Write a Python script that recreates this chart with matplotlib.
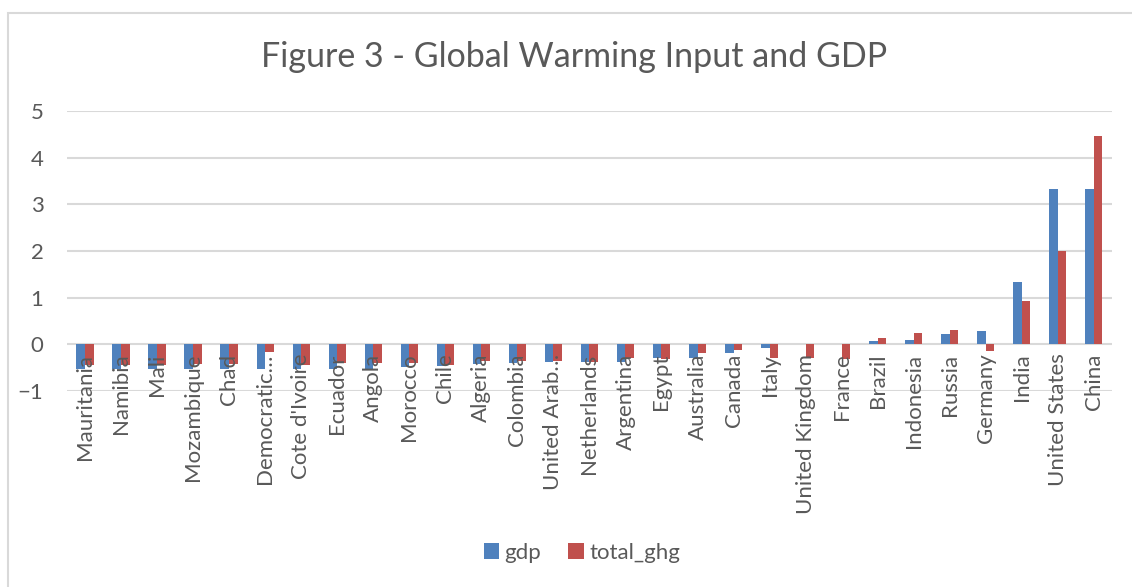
import matplotlib.pyplot as plt
import numpy as np
from matplotlib.patches import Rectangle

plt.rcParams['font.family'] = ['Lato', 'DejaVu Sans']

# country-level values (standardised)
countries = ["Mauritania", "Namibia", "Mali", "Mozambique", "Chad", "Democratic…",
             "Cote d'Ivoire", "Ecuador", "Angola", "Morocco", "Chile", "Algeria",
             "Colombia", "United Arab…", "Netherlands", "Argentina", "Egypt",
             "Australia", "Canada", "Italy", "United Kingdom", "France", "Brazil",
             "Indonesia", "Russia", "Germany", "India", "United States", "China"]
gdp = [-0.54, -0.54, -0.54, -0.54, -0.54, -0.54, -0.52, -0.52, -0.52, -0.48,
       -0.46, -0.42, -0.40, -0.39, -0.37, -0.37, -0.29, -0.29, -0.19, -0.09,
       0.0, 0.0, 0.08, 0.10, 0.22, 0.28, 1.33, 3.32, 3.32]
total_ghg = [-0.45, -0.45, -0.45, -0.42, -0.42, -0.17, -0.44, -0.41, -0.40, -0.41,
             -0.45, -0.35, -0.35, -0.36, -0.38, -0.30, -0.31, -0.18, -0.13, -0.30,
             -0.29, -0.31, 0.13, 0.24, 0.31, -0.15, 0.93, 1.99, 4.47]

blue = '#4F81BD'
red = '#C0504D'
grid = '#D9D9D9'
text_col = '#595959'

fig = plt.figure(figsize=(11.32, 5.87), dpi=100)
ax = fig.add_axes([0.0592, 0.334, 0.923, 0.477])

x = np.arange(len(countries))
w = 0.24
ax.bar(x - w / 2, gdp, w, color=blue, label='gdp', zorder=3)
ax.bar(x + w / 2, total_ghg, w, color=red, label='total_ghg', zorder=3)

ax.set_xlim(-0.5, len(countries) - 0.5)
ax.set_ylim(-1, 5)
ax.set_yticks(range(-1, 6))
ax.yaxis.grid(True, color=grid, linewidth=1.5, zorder=0)
ax.tick_params(axis='y', length=0, labelsize=16, labelcolor=text_col, pad=17)
ax.set_xticks([])
for s in ax.spines.values():
    s.set_visible(False)

# category labels sit just under the zero line
for xi, name in zip(x, countries):
    ax.text(xi, -0.2, name, rotation=90, ha='center', va='top',
            fontsize=16, color=text_col, zorder=4)

fig.text(0.507, 0.903, 'Figure 3 - Global Warming Input and GDP',
         ha='center', va='center', fontsize=24.5, color=text_col)

leg = fig.legend(loc='center', bbox_to_anchor=(0.514, 0.058), ncol=2, frameon=False,
                 fontsize=16, handlelength=0.7, handleheight=0.7,
                 handletextpad=0.25, columnspacing=1.2)
for t in leg.get_texts():
    t.set_color(text_col)

# chart border
fig.patches.append(Rectangle((8 / 1132, -0.01), 1.2, 1 - 13 / 587 + 0.01,
                             transform=fig.transFigure, fill=False,
                             edgecolor=grid, linewidth=1.5))

fig.savefig('out.png', dpi=100)
